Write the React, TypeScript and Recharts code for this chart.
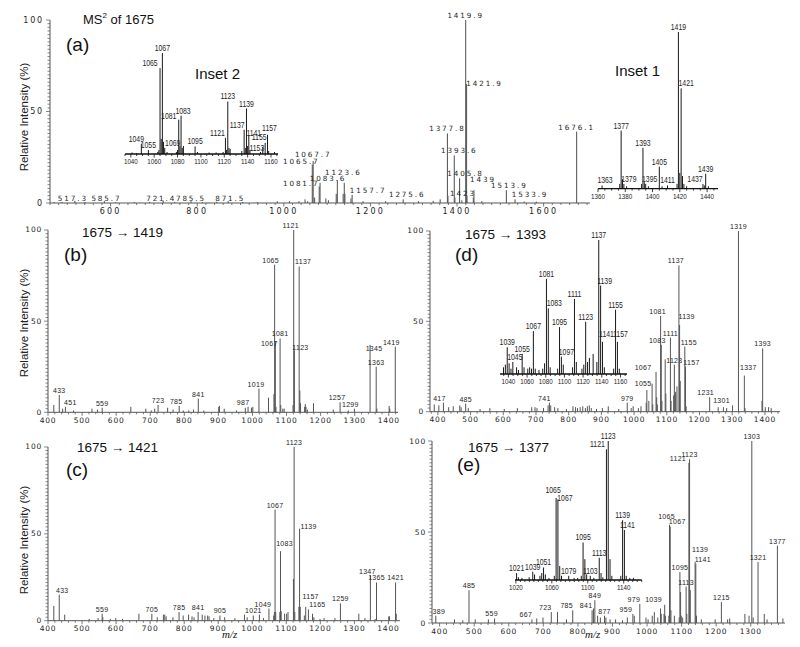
import React from "react";
import { BarChart, Bar, XAxis, YAxis } from "recharts";

// ---- peaks: [m/z, relative intensity %] ----
const peaksA: [number, number][] = [
  [470, 0.5], [488, 0.6], [517.3, 1.2], [541, 0.5], [585.7, 1], [612, 0.5], [655, 0.5], [690, 0.6],
  [721.4, 1.3], [748, 0.6], [785.5, 1], [812, 0.5], [845, 0.7], [871.5, 1], [905, 0.6], [939, 0.5],
  [985, 1], [1013, 1], [1035, 1], [1049, 2], [1055, 1], [1065.7, 21], [1067.7, 23], [1071, 3],
  [1081.7, 9], [1083.6, 11], [1097, 2.5], [1103, 1.5], [1121, 5], [1123.6, 12.5], [1137, 5],
  [1139.6, 11], [1141, 5], [1155, 2.5], [1157.7, 4.5], [1183, 1], [1235, 1], [1275.6, 2], [1311, 1],
  [1345, 1.2], [1361, 2], [1377.8, 38], [1379, 4], [1393.6, 26], [1395, 3], [1405.8, 13.5], [1411, 1.5],
  [1419.9, 100], [1421.9, 65], [1423, 4], [1437.6, 3], [1439, 7], [1457, 1], [1513.9, 7], [1533.9, 2],
  [1555, 0.8], [1583, 0.8], [1676.1, 39],
];
const labelsA = [517.3, 585.7, 721.4, 785.5, 871.5, 1065.7, 1067.7, 1081.7, 1083.6, 1123.6, 1157.7, 1275.6,
  1377.8, 1393.6, 1405.8, 1419.9, 1421.9, 1423, 1439, 1513.9, 1533.9, 1676.1];

const peaksInset1: [number, number][] = [
  [1363, 2], [1376, 3], [1377, 37], [1378, 6], [1379, 3], [1381, 1.5], [1392, 3], [1393, 26], [1394, 4],
  [1395, 3], [1397, 1.5], [1405, 14], [1407, 1.5], [1411, 2], [1418, 3], [1419, 100], [1420, 10],
  [1421, 64], [1422, 8], [1423, 3], [1425, 1.5], [1437, 3], [1438, 2], [1439, 9.5], [1441, 1.5],
];
const labelsInset1 = [1363, 1377, 1379, 1393, 1395, 1405, 1411, 1419, 1421, 1437, 1439];

const peaksInset2: [number, number][] = [
  [1041, 1.5], [1045, 1], [1049, 10], [1055, 4], [1063, 2], [1064, 4], [1065, 85], [1066, 15], [1067, 100],
  [1068, 12], [1069, 6], [1071, 2], [1079, 2], [1080, 4], [1081, 34], [1082, 8], [1083, 38], [1084, 6],
  [1085, 8], [1095, 7.5], [1097, 2], [1107, 1.5], [1113, 1.5], [1119, 2], [1121, 16], [1122, 4], [1123, 52],
  [1124, 6], [1125, 5], [1135, 3], [1137, 24], [1138, 6], [1139, 45], [1140, 8], [1141, 18], [1142, 4],
  [1151, 2], [1153, 7], [1155, 11], [1157, 19], [1158, 3], [1163, 2],
];
const labelsInset2 = [1049, 1055, 1065, 1067, 1069, 1081, 1083, 1095, 1121, 1123, 1137, 1139, 1141, 1153, 1155, 1157];

const peaksB: [number, number][] = [
  [417, 4], [433, 9.5], [443, 2], [451, 3], [475, 1], [529, 2], [545, 1.5], [559, 2.5], [643, 3], [687, 2],
  [703, 1], [713, 2], [723, 4], [751, 2.5], [767, 1.5], [785, 3.5], [797, 1], [813, 1], [827, 1.5], [841, 7.5],
  [857, 1], [901, 3], [903, 3.5], [917, 2], [953, 1], [979, 2.5], [987, 3], [997, 2.5], [1001, 3], [1019, 13],
  [1047, 8], [1063, 10], [1065, 81], [1067, 39], [1069, 3], [1081, 40.5], [1083, 4], [1089, 2], [1093, 2],
  [1119, 4], [1121, 100], [1123, 34], [1137, 80], [1139, 12], [1141, 5], [1153, 3], [1155, 4.5], [1157, 3],
  [1161, 1.5], [1179, 5], [1237, 1.5], [1257, 5.5], [1281, 1], [1299, 2], [1345, 37], [1363, 25], [1365, 2],
  [1401, 3.5], [1403, 2], [1419, 36],
];
const labelsB = [433, 451, 559, 723, 785, 841, 987, 1019, 1065, 1067, 1081, 1121, 1123, 1137, 1257, 1299, 1345, 1363, 1419];

const peaksC: [number, number][] = [
  [417, 8.5], [433, 15], [449, 3.5], [521, 1], [547, 1.5], [559, 4], [561, 2], [583, 1], [599, 1.5], [619, 1],
  [667, 4], [705, 4], [721, 2], [739, 3.5], [743, 3.5], [747, 2.5], [767, 2], [785, 5], [797, 3], [813, 3.5],
  [823, 2.5], [829, 2], [841, 5], [853, 3.5], [861, 3], [869, 3], [873, 2.5], [887, 1.5], [905, 3], [919, 2],
  [949, 1.5], [977, 3.5], [985, 2], [1003, 3], [1021, 3.5], [1033, 1.5], [1049, 7], [1063, 3], [1065, 5],
  [1067, 64], [1069, 5], [1081, 5], [1083, 40], [1085, 5.5], [1095, 4], [1101, 4], [1105, 5], [1121, 24],
  [1123, 100], [1125, 5], [1137, 8], [1139, 53], [1141, 8], [1153, 3], [1157, 8], [1165, 6.5], [1177, 4],
  [1181, 2], [1199, 1], [1211, 1.5], [1243, 1.5], [1259, 10], [1313, 4], [1331, 1.5], [1347, 26], [1361, 1],
  [1365, 22], [1401, 2.5], [1403, 2.5], [1421, 22], [1423, 4],
];
const labelsC = [433, 559, 705, 785, 841, 905, 1021, 1049, 1067, 1083, 1123, 1139, 1157, 1165, 1259, 1347, 1365, 1421];

const peaksD: [number, number][] = [
  [389, 4], [403, 3.5], [417, 5], [433, 2.5], [447, 3], [467, 3.5], [471, 2.5], [485, 4.5], [493, 2],
  [529, 1.5], [559, 2], [603, 1.5], [643, 2], [687, 2.5], [697, 2.5], [703, 2], [723, 2], [737, 3.5], [741, 5],
  [745, 3.5], [757, 2.5], [767, 2], [793, 1.5], [813, 3], [821, 2.5], [827, 2], [835, 2.5], [843, 3], [851, 2],
  [857, 3], [863, 3.5], [869, 2], [885, 1.5], [903, 2], [921, 3], [953, 1.5], [979, 5], [991, 2], [997, 3],
  [1013, 2], [1021, 3], [1037, 5], [1039, 12], [1045, 6], [1055, 15.5], [1057, 4], [1067, 22], [1069, 8],
  [1071, 4], [1081, 53], [1083, 37], [1085, 6], [1095, 29], [1097, 10], [1111, 41], [1113, 6], [1121, 9],
  [1123, 26], [1125, 10], [1127, 11], [1131, 14], [1137, 81], [1139, 48], [1141, 17], [1155, 36], [1157, 25],
  [1159, 3], [1231, 8], [1257, 2.5], [1273, 2.5], [1283, 2], [1301, 3.5], [1319, 100], [1337, 20], [1339, 2],
  [1391, 6], [1393, 35], [1401, 2.5], [1411, 2.5], [1419, 2],
];
const labelsD = [417, 485, 741, 979, 1055, 1067, 1081, 1083, 1111, 1123, 1137, 1139, 1155, 1157, 1231, 1301, 1319, 1337, 1393];

const peaksInsetD: [number, number][] = [
  [1035, 5], [1037, 7], [1039, 20], [1041, 8], [1043, 4], [1045, 9], [1049, 5], [1051, 3], [1055, 15],
  [1057, 5], [1061, 4], [1063, 5], [1065, 4], [1067, 32], [1069, 4], [1073, 3], [1077, 4], [1079, 8],
  [1081, 71], [1083, 49], [1085, 5], [1093, 4], [1095, 35], [1097, 13], [1099, 7], [1109, 5], [1111, 56],
  [1113, 9], [1119, 4], [1121, 7], [1123, 39], [1125, 9], [1127, 12], [1131, 15], [1135, 9], [1137, 100],
  [1139, 66], [1141, 24], [1143, 5], [1153, 4], [1155, 48], [1157, 24], [1159, 4],
];
const labelsInsetD = [1039, 1045, 1055, 1067, 1081, 1083, 1095, 1097, 1111, 1123, 1137, 1139, 1141, 1155, 1157];

const peaksE: [number, number][] = [
  [389, 4], [443, 2], [467, 1.5], [485, 18], [503, 2], [541, 2], [559, 2.5], [667, 2], [681, 2.5], [699, 3],
  [723, 6], [741, 6], [767, 2], [785, 7], [841, 7], [845, 8], [849, 12.5], [857, 4], [865, 3], [877, 4],
  [881, 3], [893, 2], [909, 2], [929, 1.5], [943, 3], [959, 5], [963, 4], [979, 10.5], [997, 3], [1003, 2],
  [1015, 4], [1021, 6], [1031, 3], [1039, 8], [1041, 5], [1049, 5], [1051, 10], [1053, 4], [1063, 4],
  [1065, 54], [1067, 53], [1069, 7], [1079, 4], [1093, 3], [1095, 28], [1097, 17], [1099, 4], [1103, 3],
  [1113, 20], [1115, 5], [1121, 88], [1123, 90], [1125, 18], [1139, 33.5], [1141, 32.5], [1143, 4], [1157, 2],
  [1197, 2], [1215, 11.5], [1233, 2], [1239, 2.5], [1283, 5], [1295, 4], [1303, 100], [1307, 3], [1321, 33.5],
  [1339, 5], [1347, 2], [1377, 42.5], [1393, 2.5],
];
const labelsE = [389, 485, 559, 667, 723, 785, 841, 849, 877, 959, 979, 1039, 1065, 1067, 1095, 1113, 1121, 1123,
  1139, 1141, 1215, 1303, 1321, 1377];

const peaksInsetE: [number, number][] = [
  [1021, 5], [1023, 2], [1027, 1.5], [1035, 2], [1039, 6], [1041, 4], [1047, 3], [1049, 5], [1051, 9],
  [1053, 4], [1057, 1.5], [1063, 3], [1065, 59], [1067, 58], [1069, 10], [1071, 3], [1079, 3], [1085, 1.5],
  [1089, 1.5], [1093, 3], [1095, 27], [1097, 15], [1099, 4], [1103, 3], [1107, 1.5], [1113, 16], [1115, 5],
  [1117, 2], [1121, 94], [1123, 100], [1125, 15], [1127, 3], [1137, 3], [1139, 43], [1141, 36], [1143, 3],
  [1147, 1.5], [1151, 1.5],
];
const labelsInsetE = [1021, 1039, 1051, 1065, 1067, 1079, 1095, 1103, 1113, 1121, 1123, 1139, 1141];

// ---- tick labels ----
const ticksA = [600, 800, 1000, 1200, 1400, 1600];
const ticksMain = [400, 500, 600, 700, 800, 900, 1000, 1100, 1200, 1300, 1400];
const ticksInset1 = [1360, 1380, 1400, 1420, 1440];
const ticksInset2 = [1040, 1060, 1080, 1100, 1120, 1140, 1160];
const ticksInsetE = [1020, 1060, 1100, 1140];

// label offsets [dx, dy] so the texts sit where the original put them
type Nudge = Record<number, [number, number]>;
const nudgeA: Nudge = {
  517.3: [-2, 2], 585.7: [2, 2], 721.4: [-2, 2], 785.5: [0, 2], 871.5: [2, 2],
  1065.7: [-11, 1], 1067.7: [0, -2], 1081.7: [-18, 1], 1083.6: [8, 0], 1123.6: [6, -3], 1157.7: [16, 0],
  1275.6: [4, 0], 1393.6: [5, 0], 1405.8: [6, 0], 1421.9: [18, 4], 1423: [-4, 2], 1439: [9, -6],
  1513.9: [3, 0], 1533.9: [15, 0],
};
const nudgeInset1: Nudge = { 1363: [3, 0], 1379: [5, 0], 1395: [4, 0], 1421: [5, 0], 1437: [-8, 0] };
const nudgeInset2: Nudge = {
  1049: [-5, 0], 1065: [-10, 0], 1069: [8, 0], 1081: [-10, 1], 1083: [2, 0], 1121: [-8, 0], 1137: [-7, 0],
  1141: [5, 2], 1153: [-6, 6], 1155: [-6, -1], 1157: [2, -2],
};
const nudgeB: Nudge = {
  451: [5, 0], 785: [-3, 0], 987: [-5, 0], 1019: [-3, 0], 1065: [-4, 0], 1067: [-6, 7], 1121: [-3, 0],
  1123: [6, 2], 1137: [4, 0], 1257: [-3, 0], 1299: [-4, 0], 1345: [4, 8], 1419: [-4, 0],
};
const nudgeC: Nudge = {
  433: [3, 0], 1021: [-6, 0], 1049: [-6, 0], 1083: [4, -3], 1139: [9, 2], 1157: [5, -6], 1165: [9, 0], 1347: [-3, 0],
};
const nudgeD: Nudge = {
  417: [-4, 0], 741: [-5, 0], 1055: [-9, 4], 1067: [-13, 0], 1081: [-3, 0], 1083: [-4, 0], 1137: [-3, 0],
  1139: [7, -4], 1155: [4, 0], 1157: [6, 0], 1231: [-4, 0], 1301: [-11, 0], 1337: [4, -4],
};
const nudgeInsetD: Nudge = { 1045: [2, 0], 1083: [6, 0], 1097: [5, 0], 1139: [4, 0], 1141: [4, -3], 1157: [3, -3] };
const nudgeE: Nudge = {
  389: [3, 0], 559: [-3, 0], 667: [-6, 0], 723: [-6, 0], 785: [-6, 0], 841: [-6, 0], 959: [-7, 0], 979: [-6, 0],
  1039: [-7, -4], 1065: [-3, -4], 1067: [7, -1], 1121: [-11, 0], 1139: [5, -8], 1141: [7, 0],
};
const nudgeInsetE: Nudge = { 1065: [-3, -3], 1067: [7, 4], 1121: [-9, 0], 1141: [3, 0] };

const range = (a: number, b: number, s: number) => {
  const out: number[] = [];
  for (let v = a; v <= b + 1e-9; v += s) out.push(Math.round(v * 100) / 100);
  return out;
};

type Kind = "wide" | "main" | "inset";
type Font = { family: string; size: number; spacing: number; sx: number };
const STYLES: Record<Kind, { bar: string; barW: number; lab: Font; tick: Font; axis: string; axisW: number }> = {
  wide: {
    bar: "#5e5e5e", barW: 1.1,
    lab: { family: "'DejaVu Sans', sans-serif", size: 7.2, spacing: 1.9, sx: 1 },
    tick: { family: "'DejaVu Sans', sans-serif", size: 8, spacing: 2.2, sx: 1 },
    axis: "#555", axisW: 1,
  },
  main: {
    bar: "#555", barW: 1,
    lab: { family: "'Liberation Sans', Arial, sans-serif", size: 7, spacing: 0.3, sx: 1 },
    tick: { family: "'DejaVu Sans', sans-serif", size: 7.5, spacing: 0.8, sx: 1 },
    axis: "#555", axisW: 1,
  },
  inset: {
    bar: "#1a1a1a", barW: 1,
    lab: { family: "'Liberation Sans', Arial, sans-serif", size: 8.6, spacing: 0, sx: 0.8 },
    tick: { family: "'Liberation Sans', Arial, sans-serif", size: 8, spacing: 0, sx: 0.78 },
    axis: "#111", axisW: 1.4,
  },
};

type Geo = { left: number; top: number; w: number; h: number };

function Spectrum(props: {
  peaks: [number, number][];
  labeled: number[];
  nudge: Nudge;
  domain: [number, number];
  major: number[];
  minorStep: number;
  geo: Geo;
  kind: Kind;
}) {
  const { peaks, labeled, nudge, domain, major, minorStep, geo, kind } = props;
  const st = STYLES[kind];
  const inset = kind === "inset";
  const rows = peaks.map(([mz, i]) => ({ mz, i, lab: labeled.includes(mz) ? mz : null }));
  const ML = inset ? 12 : 40;
  const MT = 14;
  const MR = inset ? 14 : 24;
  const MB = inset ? 14 : 18;
  const W = geo.w + ML + MR;
  const H = geo.h + MT + MB;
  const majors = major.filter((t) => t >= domain[0] && t <= domain[1]);
  const minorStart = Math.ceil(domain[0] / minorStep) * minorStep;
  const xticks = Array.from(new Set([...range(minorStart, domain[1], minorStep), ...majors])).sort((a, b) => a - b);

  const textEl = (f: Font, x: number, y: number, s: string | number, anchor: string = "middle") => (
    <text
      transform={`translate(${x},${y}) scale(${f.sx},1)`}
      textAnchor={anchor as any}
      fontFamily={f.family}
      fontSize={f.size}
      letterSpacing={f.spacing}
      fill="#1e1e1e"
    >
      {s}
    </text>
  );

  const shape = (p: any) => {
    const row = p.payload ?? p;
    const cx = p.x + p.width / 2;
    const lab = row?.lab;
    const nd = lab != null ? nudge[lab] ?? [0, 0] : [0, 0];
    return (
      <g>
        <rect x={cx - st.barW / 2} y={p.y} width={st.barW} height={Math.max(0, p.height)} fill={st.bar} />
        {lab != null && textEl(st.lab, cx + nd[0], p.y - 2 + nd[1], String(lab))}
      </g>
    );
  };

  const xTick = (p: any) => {
    const v = p.payload.value;
    const isMajor = majors.includes(v);
    return (
      <g>
        <line x1={p.x} x2={p.x} y1={p.y} y2={p.y + (isMajor ? 3.5 : 2)} stroke={st.axis} strokeWidth={0.8} />
        {isMajor && textEl(st.tick, p.x, p.y + (inset ? 10 : 10.5), v)}
      </g>
    );
  };

  const yTick = (p: any) => {
    const v = p.payload.value;
    const isMajor = v % 50 === 0;
    return (
      <g>
        <line x1={p.x} x2={p.x - (isMajor ? 4 : 2.5)} y1={p.y} y2={p.y} stroke={st.axis} strokeWidth={0.7} />
        {isMajor && textEl({ ...st.tick, spacing: kind === "wide" ? 1.8 : 0.8 }, p.x - 6, p.y + 2.5, v, "end")}
      </g>
    );
  };

  return (
    <div style={{ position: "absolute", left: geo.left - ML, top: geo.top - MT }}>
      <BarChart width={W} height={H} data={rows} margin={{ top: MT, right: MR, bottom: 0, left: inset ? ML : 0 }}>
        <XAxis
          dataKey="mz"
          type="number"
          domain={domain}
          ticks={xticks}
          interval={0}
          tickSize={0}
          tickMargin={0}
          tickLine={false}
          height={MB}
          tick={xTick}
          axisLine={{ stroke: st.axis, strokeWidth: st.axisW }}
        />
        {inset ? (
          <YAxis hide domain={[0, 100]} />
        ) : (
          <YAxis
            type="number"
            domain={[0, 100]}
            ticks={range(0, 100, 2)}
            interval={0}
            width={ML}
            tickSize={0}
            tickMargin={0}
            tickLine={false}
            tick={yTick}
            axisLine={{ stroke: st.axis, strokeWidth: 1 }}
          />
        )}
        <Bar dataKey="i" isAnimationActive={false} shape={shape} />
      </BarChart>
    </div>
  );
}

function Txt({ x, y, size, children, style }: { x: number; y: number; size: number; children: React.ReactNode; style?: React.CSSProperties }) {
  return (
    <div
      style={{
        position: "absolute", left: x, top: y, fontSize: size, lineHeight: 1, whiteSpace: "nowrap",
        fontFamily: "'Liberation Sans', Arial, sans-serif", color: "#111", ...style,
      }}
    >
      {children}
    </div>
  );
}

function YLabel({ cy }: { cy: number }) {
  return (
    <div
      style={{
        position: "absolute", left: 24 - 80, top: cy - 7, width: 160, height: 14, textAlign: "center",
        transform: "rotate(-90deg)", fontSize: 11.5, lineHeight: "14px", whiteSpace: "nowrap",
        fontFamily: "'Liberation Sans', Arial, sans-serif", color: "#222",
      }}
    >
      Relative Intensity (%)
    </div>
  );
}

export default function App() {
  return (
    <div style={{ position: "fixed", left: 0, top: 0, width: 800, height: 647, background: "#fff", overflow: "hidden" }}>
      {/* (a) full MS2 */}
      <Spectrum peaks={peaksA} labeled={labelsA} nudge={nudgeA} domain={[460, 1707]} major={ticksA} minorStep={20}
        geo={{ left: 50, top: 20, w: 540, h: 183 }} kind="wide" />
      <Spectrum peaks={peaksInset2} labeled={labelsInset2} nudge={nudgeInset2} domain={[1035, 1166]} major={ticksInset2} minorStep={5}
        geo={{ left: 125, top: 53, w: 153, h: 101 }} kind="inset" />
      <Spectrum peaks={peaksInset1} labeled={labelsInset1} nudge={nudgeInset1} domain={[1360, 1448]} major={ticksInset1} minorStep={5}
        geo={{ left: 598, top: 31.7, w: 120, h: 156.6 }} kind="inset" />

      {/* (b) and (d) */}
      <Spectrum peaks={peaksB} labeled={labelsB} nudge={nudgeB} domain={[400, 1427]} major={ticksMain} minorStep={20}
        geo={{ left: 48, top: 230, w: 350, h: 182.3 }} kind="main" />
      <Spectrum peaks={peaksD} labeled={labelsD} nudge={nudgeD} domain={[376, 1446]} major={ticksMain} minorStep={20}
        geo={{ left: 430, top: 231, w: 350, h: 180.7 }} kind="main" />
      <Spectrum peaks={peaksInsetD} labeled={labelsInsetD} nudge={nudgeInsetD} domain={[1031, 1167]} major={ticksInset2} minorStep={5}
        geo={{ left: 500, top: 240, w: 127, h: 134 }} kind="inset" />

      {/* (c) and (e) */}
      <Spectrum peaks={peaksC} labeled={labelsC} nudge={nudgeC} domain={[400, 1434]} major={ticksMain} minorStep={20}
        geo={{ left: 48, top: 447.3, w: 352, h: 173.7 }} kind="main" />
      <Spectrum peaks={peaksE} labeled={labelsE} nudge={nudgeE} domain={[378, 1399]} major={ticksMain} minorStep={20}
        geo={{ left: 432, top: 440.7, w: 353, h: 182 }} kind="main" />
      <Spectrum peaks={peaksInsetE} labeled={labelsInsetE} nudge={nudgeInsetE} domain={[1019, 1160]} major={ticksInsetE} minorStep={5}
        geo={{ left: 515, top: 441.3, w: 126.7, h: 139 }} kind="inset" />

      {/* titles */}
      <Txt x={83} y={13} size={13}>
        MS<sup style={{ fontSize: 8, verticalAlign: "6px", lineHeight: 0 }}>2</sup> of 1675
      </Txt>
      <Txt x={66} y={35} size={19}>(a)</Txt>
      <Txt x={195} y={66} size={15}>Inset 2</Txt>
      <Txt x={615} y={63} size={15}>Inset 1</Txt>

      <Txt x={82} y={226} size={13.5}>1675 → 1419</Txt>
      <Txt x={64} y={245} size={19}>(b)</Txt>
      <Txt x={465} y={228} size={13.5}>1675 → 1393</Txt>
      <Txt x={455} y={245} size={19}>(d)</Txt>
      <Txt x={77} y={441} size={13.5}>1675 → 1421</Txt>
      <Txt x={66} y={460} size={19}>(c)</Txt>
      <Txt x={468} y={441} size={13.5}>1675 → 1377</Txt>
      <Txt x={457} y={455} size={19}>(e)</Txt>

      <YLabel cy={117} />
      <YLabel cy={323} />
      <YLabel cy={540} />

      <Txt x={222} y={629} size={11} style={{ fontFamily: "'Liberation Serif', 'Times New Roman', serif", fontStyle: "italic" }}>m/z</Txt>
      <Txt x={585} y={629} size={11} style={{ fontFamily: "'Liberation Serif', 'Times New Roman', serif", fontStyle: "italic" }}>m/z</Txt>
    </div>
  );
}
